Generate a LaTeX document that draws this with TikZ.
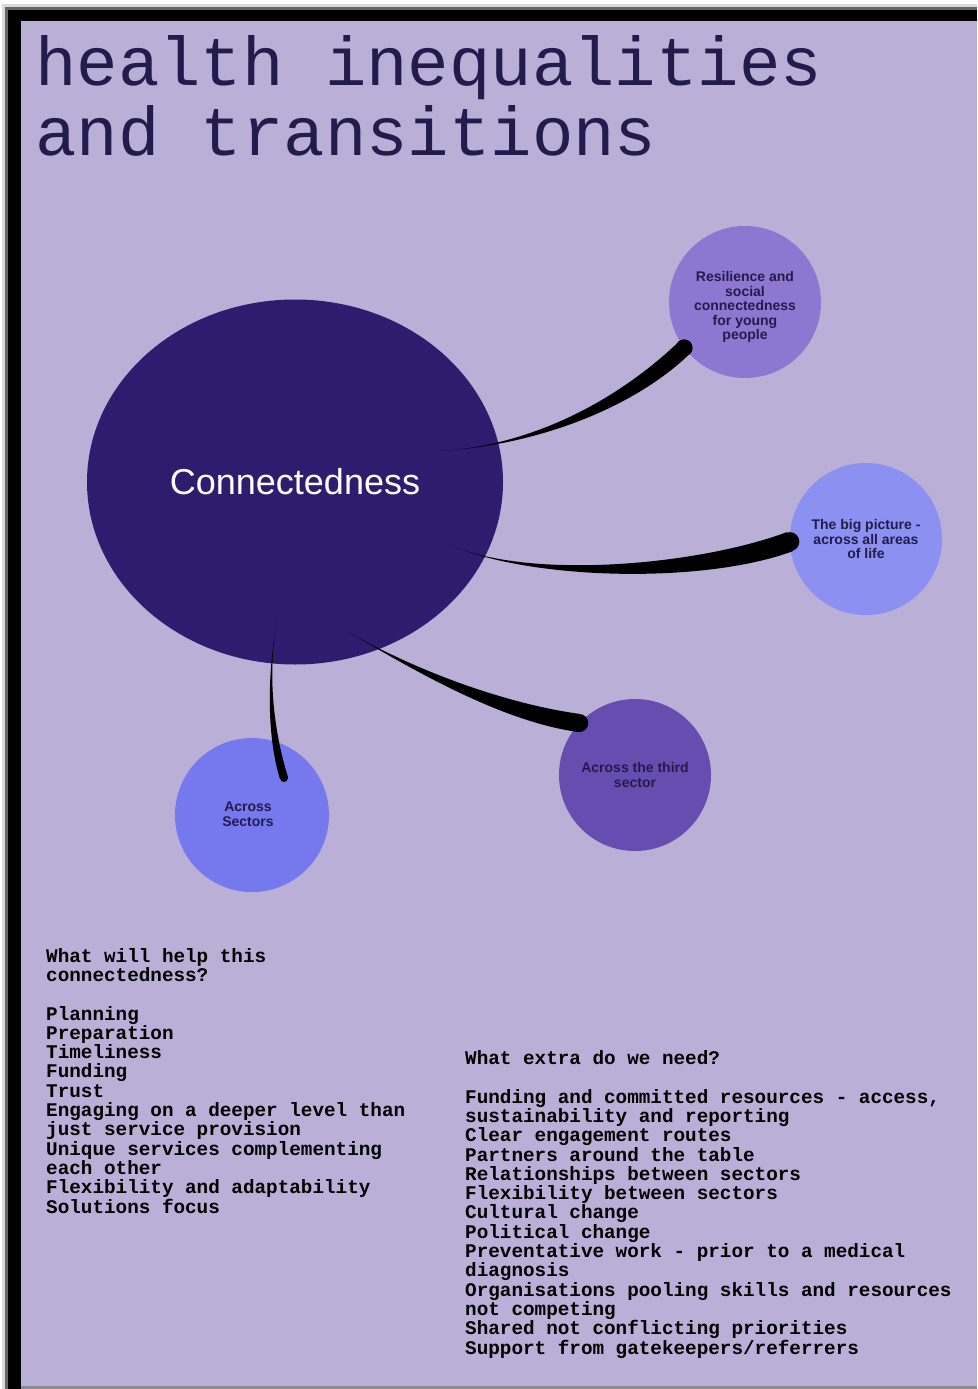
\documentclass[tikz,border=0pt]{standalone}
\usepackage{fontspec}
\usepackage{xcolor}
\setmainfont{Liberation Sans}
\newfontfamily\listfont{Liberation Mono}
\usepackage{tikz}
\usetikzlibrary{shapes.geometric}
\usetikzlibrary{calc}

\definecolor{paper}{HTML}{B9AFD7}
\definecolor{ink}{HTML}{221C4C}
\definecolor{hub}{HTML}{2F1C6F}
\definecolor{lilacA}{HTML}{8E77D1}
\definecolor{blueA}{HTML}{8C90F0}
\definecolor{violetA}{HTML}{684DB0}
\definecolor{blueB}{HTML}{7678EE}

\tikzset{
  bubbletext/.style={align=center, inner sep=0pt, text=ink,
    font=\fontsize{14}{14.5}\selectfont\bfseries},
  bubble/.style={circle, minimum size=152pt, bubbletext},
  listtext/.style={anchor=base west, align=left, inner sep=0pt, text=black,
    font=\listfont\bfseries\fontsize{19.3}{19.3}\selectfont},
  branchfill/.style={fill=black}
}

% tapered branch: start, control 1, control 2, end, half width at end, end radius
\newcommand{\branch}[6]{%
  \fill[branchfill] (#1) .. controls (#2) and ($(#3)+(#5)$) .. ($(#4)+(#5)$)
    -- ($(#4)-(#5)$) .. controls ($(#3)-(#5)$) and (#2) .. (#1) -- cycle;
  \fill[branchfill] (#4) circle (#6);
}

\begin{document}
\begin{tikzpicture}[x=1pt, y=-1pt]
  % frame
  \fill[white] (0,0) rectangle (977,1389);
  \fill[black!15] (2,4) rectangle (977,1389);
  \fill[black!60] (5,7) rectangle (977,1389);
  \fill[black] (8,10) rectangle (977,1389);
  \fill[paper] (21,21) rectangle (977,1386);
  \fill[black!45] (21,1386) rectangle (977,1389);
  \useasboundingbox (0,0) rectangle (977,1389);

  \node[anchor=base west, align=left, inner sep=0pt, text=ink,
    font=\listfont\fontsize{69}{70}\selectfont] (title) at (35,155)
    {health inequalities\\and transitions};

  \node[ellipse, fill=hub, minimum width=416pt, minimum height=365pt, inner sep=0pt,
    text=white, font=\fontsize{36}{36}\selectfont] (conn) at (295,482) {Connectedness};

  \node[bubble, fill=lilacA,
    label={[bubbletext, yshift=-5pt]center:{Resilience and\\social\\connectedness\\for young\\people}}]
    (young) at (745,302) {};
  \node[bubble, fill=blueA] (whole) at (866,539)
    {The big picture -\\across all areas\\of life};
  \node[bubble, fill=violetA] (third) at (635,775) {Across the third\\sector};
  \node[bubble, fill=blueB, minimum size=154pt,
    label={[bubbletext, xshift=-4pt, yshift=1pt]center:{Across\\Sectors}}]
    (sectors) at (252,815) {};

  \coordinate (b1s) at ($(conn.center)+(145,-31)$);
  \coordinate (b1e) at (young.217);
  \coordinate (b2s) at ($(conn.center)+(155,63)$);
  \coordinate (b2e) at (whole.182);
  \coordinate (b3s) at ($(conn.center)+(50,148)$);
  \coordinate (b3e) at (third.137);
  \coordinate (b4s) at ($(conn.center)+(-18,140)$);
  \coordinate (b4e) at ($(sectors.center)+(32,-37)$);

  \branch{b1s}{540,445}{630,400}{b1e}{5,6.5}{8.5}
  \branch{b2s}{530,580}{700,575}{b2e}{3,9.5}{9.5}
  \branch{b3s}{410,668}{500,712}{b3e}{-1,9}{9}
  \branch{b4s}{266,680}{272,740}{b4e}{4,-1}{4}

  \node[listtext] (helps) at (46,1213)
    {What will help this\\connectedness?\\[19.3pt]Planning\\Preparation\\Timeliness\\Funding\\Trust\\
     Engaging on a deeper level than\\just service provision\\Unique services complementing\\
     each other\\Flexibility and adaptability\\Solutions focus};

  \node[listtext] (needs) at (465,1354)
    {What extra do we need?\\[19.3pt]Funding and committed resources - access,\\
     sustainability and reporting\\Clear engagement routes\\Partners around the table\\
     Relationships between sectors\\Flexibility between sectors\\Cultural change\\
     Political change\\Preventative work - prior to a medical\\diagnosis\\
     Organisations pooling skills and resources\\not competing\\
     Shared not conflicting priorities\\Support from gatekeepers/referrers};
\end{tikzpicture}
\end{document}
